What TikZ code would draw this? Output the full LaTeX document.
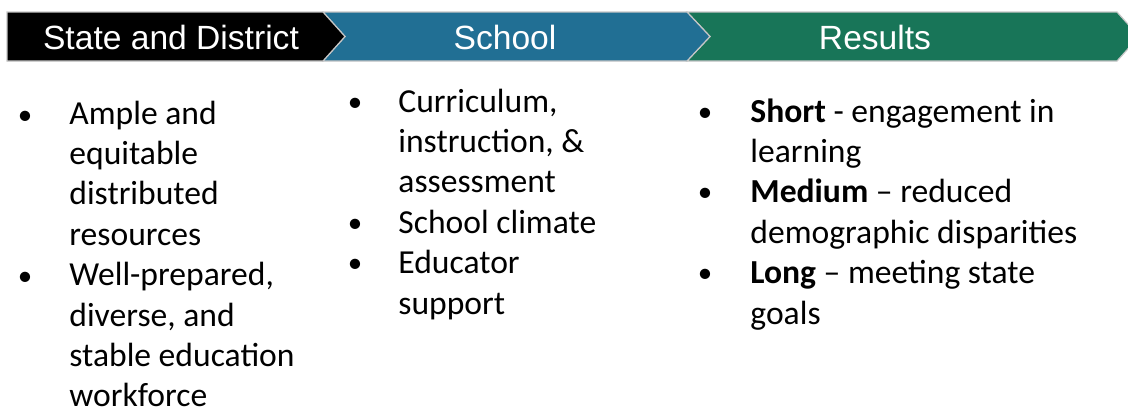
\documentclass[tikz,border=0pt]{standalone}
\usepackage{fontspec}
\setmainfont{Carlito}
\newfontfamily\headfont{Liberation Sans}
\usetikzlibrary{positioning}
\definecolor{stepblue}{RGB}{33,111,148}
\definecolor{stepgreen}{RGB}{24,117,88}
\tikzset{
  bar/.style={draw=gray!45, line width=0.6pt},
  headtext/.style={anchor=base, text=white, inner sep=0pt,
    font=\headfont\fontsize{16.8}{20}\selectfont},
  % anchored at the baseline of the last line
  itemtext/.style={anchor=base west, inner sep=0pt, align=left,
    font=\fontsize{16.8}{20.2}\selectfont},
  dot/.style={anchor=base, inner sep=0pt, font=\fontsize{14.5}{18}\selectfont}
}

\begin{document}
\begin{tikzpicture}[x=0.5pt, y=-0.5pt]
    \useasboundingbox (0,0) rectangle (1128,409);
    \clip (0,0) rectangle (1128,409);

    % header chevrons
    \path[bar, fill=stepgreen] (687,12) -- (1117,12) -- (1139,36.5) -- (1117,61) -- (687,61) -- (710,36.5) -- cycle;
    \path[bar, fill=stepblue] (323,12) -- (687,12) -- (710,36.5) -- (687,61) -- (323,61) -- (345,36.5) -- cycle;
    \path[bar, fill=black] (7,12) -- (323,12) -- (345,36.5) -- (323,61) -- (7,61) -- cycle;

    \node[headtext] (state) at (171,49.5) {State and District};
    \node[headtext] (school) at (505,49.5) {School};
    \node[headtext] (results) at (875,49.5) {Results};

    % State and District
    \node[dot] (sdA) at (25,124) {\textbullet};
    \node[itemtext] (sd1) at (69,245.2) {Ample and\\equitable\\distributed\\resources};
    \node[dot] (sdB) at (25,285.6) {\textbullet};
    \node[itemtext] (sd2) at (69,406.8) {Well-prepared,\\diverse, and\\stable education\\workforce};

    % School
    \node[dot] (scA) at (355,111) {\textbullet};
    \node[itemtext] (sc1) at (398,192.8) {Curriculum,\\instruction, \&\\assessment};
    \node[dot] (scB) at (355,232.2) {\textbullet};
    \node[itemtext] (sc2) at (398,233.2) {School climate};
    \node[dot] (scC) at (355,272.6) {\textbullet};
    \node[itemtext] (sc3) at (398,314) {Educator\\support};

    % Results
    \node[dot] (rsA) at (705,121) {\textbullet};
    \node[itemtext] (rs1) at (750,162.4) {\textbf{Short} - engagement in\\learning};
    \node[dot] (rsB) at (705,201.8) {\textbullet};
    \node[itemtext] (rs2) at (750,243.2) {\textbf{Medium} -- reduced\\demographic disparities};
    \node[dot] (rsC) at (705,282.6) {\textbullet};
    \node[itemtext] (rs3) at (750,324) {\textbf{Long} -- meeting state\\goals};
\end{tikzpicture}
\end{document}
